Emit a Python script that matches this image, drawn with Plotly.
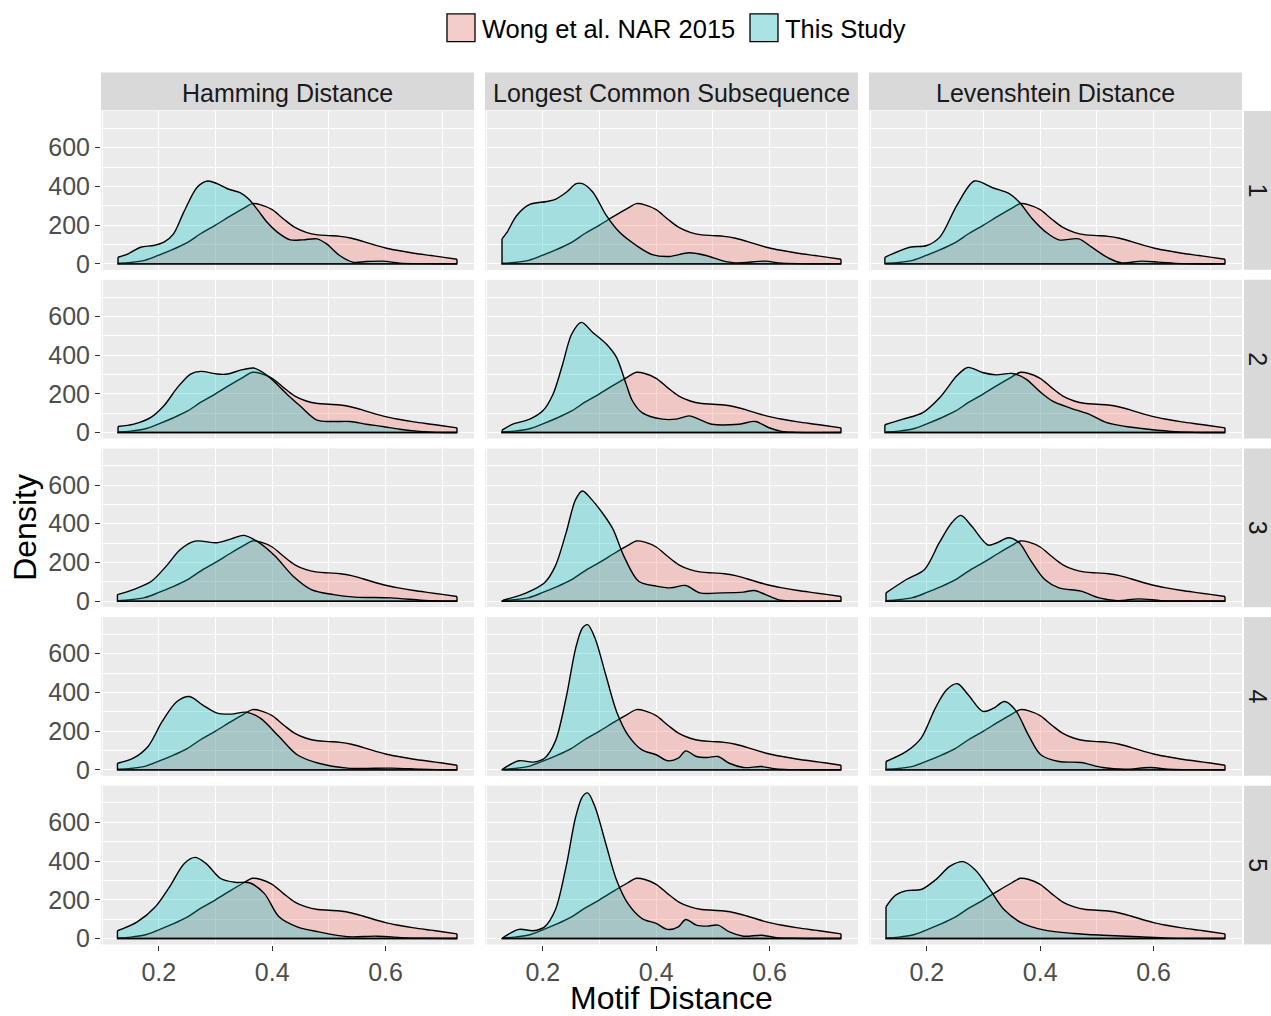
import plotly.graph_objects as go
from plotly.subplots import make_subplots

W, H = 1271, 1016

metrics = ["Hamming Distance", "Longest Common Subsequence", "Levenshtein Distance"]
row_labels = ["1", "2", "3", "4", "5"]
series_names = ["Wong et al. NAR 2015", "This Study"]
x_ticks = [0.2, 0.4, 0.6]
y_ticks = [0, 200, 400, 600]

# Reference distribution (same in every panel)
wong_x = [0.128, 0.15, 0.175, 0.2, 0.225, 0.25, 0.275, 0.3, 0.325, 0.35, 0.365, 0.38, 0.4, 0.42,
          0.44, 0.46, 0.48, 0.5, 0.52, 0.54, 0.56, 0.58, 0.6, 0.62, 0.65, 0.68, 0.7, 0.726]
wong_y = [3, 7, 18, 45, 75, 110, 158, 200, 245, 288, 311, 305, 280, 232,
          188, 163, 150, 146, 142, 132, 116, 98, 82, 70, 55, 43, 35, 24]

# This Study, Hamming Distance, rows 1..5
ham1_x = [0.128, 0.146, 0.168, 0.191, 0.209, 0.226, 0.244, 0.268, 0.286, 0.303, 0.321, 0.344, 0.358, 0.373,
          0.391, 0.409, 0.432, 0.454, 0.479, 0.496, 0.519, 0.542, 0.566, 0.595, 0.625, 0.665, 0.726]
ham1_y = [34, 52, 86, 95, 112, 155, 267, 397, 428, 414, 388, 367, 336, 284,
          215, 164, 124, 124, 129, 103, 43, 9, 12, 14, 4, 1, 0]
ham2_x = [0.128, 0.156, 0.186, 0.209, 0.233, 0.256, 0.274, 0.303, 0.321, 0.344, 0.367, 0.384, 0.402, 0.426,
          0.449, 0.479, 0.507, 0.537, 0.566, 0.595, 0.625, 0.66, 0.69, 0.726]
ham2_y = [31, 43, 78, 138, 233, 302, 316, 302, 302, 322, 333, 310, 267, 198,
          138, 64, 57, 57, 43, 31, 17, 6, 1, 0]
ham3_x = [0.127, 0.155, 0.187, 0.213, 0.238, 0.264, 0.303, 0.328, 0.35, 0.373, 0.405, 0.437, 0.469, 0.508,
          0.546, 0.61, 0.662, 0.69, 0.726]
ham3_y = [34, 60, 103, 181, 267, 310, 302, 322, 340, 310, 233, 129, 60, 34,
          21, 17, 5, 1, 0]
ham4_x = [0.127, 0.155, 0.181, 0.206, 0.232, 0.254, 0.277, 0.303, 0.328, 0.354, 0.379, 0.412, 0.444, 0.482,
          0.533, 0.61, 0.662, 0.69, 0.726]
ham4_y = [34, 60, 121, 250, 353, 379, 336, 293, 288, 298, 267, 172, 78, 34,
          9, 9, 3, 1, 0]
ham5_x = [0.127, 0.162, 0.194, 0.219, 0.245, 0.264, 0.283, 0.309, 0.335, 0.36, 0.386, 0.412, 0.444, 0.482,
          0.533, 0.585, 0.636, 0.67, 0.726]
ham5_y = [40, 86, 164, 267, 388, 419, 388, 310, 290, 288, 233, 112, 60, 34,
          9, 12, 3, 1, 0]

# This Study, Longest Common Subsequence, rows 1..5
lcs1_x = [0.128, 0.137, 0.154, 0.177, 0.207, 0.224, 0.242, 0.259, 0.27, 0.288, 0.312, 0.335, 0.365, 0.393,
          0.423, 0.458, 0.488, 0.516, 0.54, 0.593, 0.616, 0.65, 0.726]
lcs1_y = [129, 164, 250, 307, 322, 336, 371, 414, 414, 371, 250, 164, 95, 48,
          38, 57, 43, 17, 5, 14, 5, 1, 0]
lcs2_x = [0.128, 0.147, 0.177, 0.2, 0.218, 0.235, 0.251, 0.268, 0.288, 0.312, 0.33, 0.347, 0.358, 0.375,
          0.411, 0.435, 0.458, 0.475, 0.498, 0.546, 0.575, 0.598, 0.621, 0.645, 0.726]
lcs2_y = [12, 43, 69, 112, 198, 353, 509, 569, 517, 457, 388, 250, 164, 103,
          69, 69, 86, 69, 43, 43, 57, 26, 6, 1, 0]
lcs3_x = [0.13, 0.171, 0.203, 0.222, 0.241, 0.258, 0.27, 0.286, 0.309, 0.324, 0.343, 0.369, 0.4, 0.426,
          0.452, 0.477, 0.516, 0.554, 0.573, 0.593, 0.615, 0.64, 0.726]
lcs3_y = [5, 43, 95, 181, 353, 526, 569, 526, 440, 371, 233, 103, 78, 69,
          81, 43, 43, 47, 55, 34, 8, 1, 0]
lcs4_x = [0.13, 0.158, 0.183, 0.203, 0.222, 0.241, 0.258, 0.27, 0.279, 0.292, 0.311, 0.33, 0.35, 0.375,
          0.4, 0.42, 0.439, 0.452, 0.471, 0.49, 0.509, 0.529, 0.554, 0.586, 0.612, 0.64, 0.726]
lcs4_y = [5, 47, 40, 60, 147, 371, 629, 733, 750, 681, 491, 302, 181, 103,
          78, 47, 60, 98, 69, 64, 69, 34, 12, 17, 4, 1, 0]
lcs5_x = [0.13, 0.158, 0.183, 0.203, 0.222, 0.241, 0.258, 0.27, 0.279, 0.292, 0.311, 0.33, 0.35, 0.375,
          0.4, 0.42, 0.439, 0.452, 0.471, 0.49, 0.509, 0.529, 0.554, 0.586, 0.612, 0.64, 0.726]
lcs5_y = [5, 47, 40, 60, 147, 371, 629, 733, 752, 681, 491, 302, 181, 103,
          78, 47, 60, 98, 69, 64, 69, 34, 12, 17, 4, 1, 0]

# This Study, Levenshtein Distance, rows 1..5
lev1_x = [0.126, 0.17, 0.2, 0.223, 0.253, 0.284, 0.316, 0.346, 0.363, 0.386, 0.41, 0.433, 0.468, 0.491,
          0.521, 0.544, 0.579, 0.609, 0.65, 0.726]
lev1_y = [34, 86, 95, 138, 302, 428, 393, 362, 319, 233, 164, 124, 129, 86,
          29, 5, 14, 9, 1, 0]
lev2_x = [0.126, 0.158, 0.193, 0.223, 0.253, 0.272, 0.298, 0.322, 0.351, 0.375, 0.398, 0.421, 0.451, 0.486,
          0.516, 0.551, 0.591, 0.639, 0.67, 0.726]
lev2_y = [40, 69, 103, 181, 293, 336, 310, 298, 305, 276, 215, 164, 129, 95,
          52, 31, 17, 4, 1, 0]
lev3_x = [0.128, 0.164, 0.196, 0.222, 0.244, 0.26, 0.279, 0.308, 0.324, 0.344, 0.363, 0.382, 0.408, 0.433,
          0.472, 0.504, 0.536, 0.574, 0.613, 0.65, 0.726]
lev3_y = [43, 112, 164, 302, 405, 443, 388, 290, 302, 328, 302, 216, 112, 69,
          52, 17, 3, 12, 3, 1, 0]
lev4_x = [0.128, 0.164, 0.19, 0.215, 0.235, 0.254, 0.273, 0.299, 0.318, 0.337, 0.356, 0.379, 0.401, 0.433,
          0.472, 0.51, 0.549, 0.594, 0.626, 0.66, 0.726]
lev4_y = [43, 95, 164, 319, 414, 445, 388, 302, 319, 353, 310, 181, 78, 43,
          38, 12, 3, 12, 3, 1, 0]
lev5_x = [0.128, 0.145, 0.164, 0.19, 0.215, 0.241, 0.264, 0.286, 0.312, 0.337, 0.369, 0.408, 0.459, 0.51,
          0.574, 0.626, 0.726]
lev5_y = [164, 224, 247, 253, 302, 374, 397, 353, 250, 147, 78, 43, 26, 17,
          9, 2, 0]

study = {
    (1, 1): (ham1_x, ham1_y), (2, 1): (ham2_x, ham2_y), (3, 1): (ham3_x, ham3_y),
    (4, 1): (ham4_x, ham4_y), (5, 1): (ham5_x, ham5_y),
    (1, 2): (lcs1_x, lcs1_y), (2, 2): (lcs2_x, lcs2_y), (3, 2): (lcs3_x, lcs3_y),
    (4, 2): (lcs4_x, lcs4_y), (5, 2): (lcs5_x, lcs5_y),
    (1, 3): (lev1_x, lev1_y), (2, 3): (lev2_x, lev2_y), (3, 3): (lev3_x, lev3_y),
    (4, 3): (lev4_x, lev4_y), (5, 3): (lev5_x, lev5_y),
}

PINK = "rgba(248,118,109,0.3)"
TEAL = "rgba(0,191,196,0.3)"
FONT = "Liberation Sans, Arial, sans-serif"
LW = 1.4

fig = make_subplots(rows=5, cols=3)


def add_density(xs, ys, fill, name, r, c):
    # smooth filled curve
    fig.add_trace(go.Scatter(x=xs, y=ys, fill="tozeroy", fillcolor=fill, mode="lines",
                             line=dict(color="black", width=LW, shape="spline", smoothing=0.9),
                             name=name, showlegend=False, hoverinfo="skip"), row=r, col=c)
    # outline: vertical end edges and baseline
    fig.add_trace(go.Scatter(x=[xs[0], xs[0], xs[-1], xs[-1]], y=[ys[0], 0, 0, ys[-1]],
                             mode="lines", line=dict(color="black", width=LW),
                             name=name, showlegend=False, hoverinfo="skip"), row=r, col=c)


for r in range(1, 6):
    for c in range(1, 4):
        add_density(wong_x, wong_y, PINK, series_names[0], r, c)
        sx, sy = study[(r, c)]
        add_density(sx, sy, TEAL, series_names[1], r, c)

col_left = [101, 485, 869]
col_w = 373
row_top = [112, 282, 452, 622, 792]
row_h = 160

shapes = []
annotations = []
for r in range(1, 6):
    for c in range(1, 4):
        idx = (r - 1) * 3 + c
        xa = "xaxis" if idx == 1 else f"xaxis{idx}"
        ya = "yaxis" if idx == 1 else f"yaxis{idx}"
        x0 = col_left[c - 1] / W
        x1 = (col_left[c - 1] + col_w) / W
        y1 = 1 - row_top[r - 1] / H
        y0 = 1 - (row_top[r - 1] + row_h) / H
        fig.layout[xa].update(
            domain=[x0, x1], range=[0.098, 0.756], tickvals=x_ticks,
            ticktext=[f"{v:.1f}" for v in x_ticks],
            showticklabels=(r == 5), ticks="outside" if r == 5 else "",
            ticklen=5, tickwidth=1, tickcolor="#333333",
            tickfont=dict(family=FONT, size=25, color="#4D4D4D"),
            showgrid=True, gridcolor="white", gridwidth=1.2, zeroline=False,
            showline=False,
            minor=dict(tickvals=[0.1, 0.3, 0.5, 0.7], showgrid=True, gridcolor="white",
                       gridwidth=0.6, ticks=""),
        )
        fig.layout[ya].update(
            domain=[y0, y1], range=[-31, 789], tickvals=y_ticks,
            showticklabels=(c == 1), ticks="outside" if c == 1 else "",
            ticklen=5, tickwidth=1, tickcolor="#333333",
            tickfont=dict(family=FONT, size=25, color="#4D4D4D"),
            showgrid=True, gridcolor="white", gridwidth=1.2, zeroline=False,
            showline=False,
            minor=dict(tickvals=[100, 300, 500, 700], showgrid=True, gridcolor="white",
                       gridwidth=0.6, ticks=""),
        )

# top strips
for c in range(3):
    x0 = col_left[c] / W
    x1 = (col_left[c] + col_w) / W
    shapes.append(dict(type="rect", xref="paper", yref="paper", x0=x0, x1=x1,
                       y0=1 - 111 / H, y1=1 - 73 / H, fillcolor="#D9D9D9", line=dict(width=0),
                       layer="below"))
    annotations.append(dict(xref="paper", yref="paper", x=(x0 + x1) / 2, y=1 - 94 / H,
                            text=metrics[c], showarrow=False, xanchor="center", yanchor="middle",
                            font=dict(family=FONT, size=25, color="#1A1A1A")))
# right strips
for r in range(5):
    y1 = 1 - row_top[r] / H
    y0 = 1 - (row_top[r] + row_h) / H
    shapes.append(dict(type="rect", xref="paper", yref="paper", x0=1244 / W, x1=1.0,
                       y0=y0, y1=y1, fillcolor="#D9D9D9", line=dict(width=0), layer="below"))
    annotations.append(dict(xref="paper", yref="paper", x=1258 / W, y=(y0 + y1) / 2,
                            text=row_labels[r], showarrow=False, textangle=90,
                            xanchor="center", yanchor="middle", height=22, borderpad=0,
                            font=dict(family=FONT, size=25, color="#1A1A1A")))

# axis titles
annotations.append(dict(xref="paper", yref="paper", x=671 / W, y=1 - 1006 / H,
                        text="Motif Distance", showarrow=False, xanchor="center", yanchor="middle",
                        borderpad=0, height=30,
                        font=dict(family=FONT, size=32, color="black")))
annotations.append(dict(xref="paper", yref="paper", x=25 / W, y=1 - 532 / H,
                        text="Density", showarrow=False, textangle=-90,
                        xanchor="center", yanchor="middle",
                        font=dict(family=FONT, size=32, color="black")))

# legend
leg = [(447, PINK, series_names[0]), (750, TEAL, series_names[1])]
for xk, col, name in leg:
    shapes.append(dict(type="rect", xref="paper", yref="paper", x0=xk / W, x1=(xk + 28) / W,
                       y0=1 - 42 / H, y1=1 - 14 / H, fillcolor="#F2F2F2",
                       line=dict(width=0)))
    shapes.append(dict(type="rect", xref="paper", yref="paper", x0=xk / W, x1=(xk + 28) / W,
                       y0=1 - 42 / H, y1=1 - 14 / H, fillcolor=col,
                       line=dict(color="black", width=1.3)))
    annotations.append(dict(xref="paper", yref="paper", x=(xk + 33) / W, y=1 - 29 / H,
                            text=name, showarrow=False, xanchor="left", yanchor="middle",
                            font=dict(family=FONT, size=25.5, color="black")))

fig.update_layout(
    width=W, height=H, margin=dict(l=0, r=0, t=0, b=0),
    paper_bgcolor="white", plot_bgcolor="#EBEBEB",
    showlegend=False, shapes=shapes, annotations=annotations,
    font=dict(family=FONT),
)

fig.write_html("out.html")
